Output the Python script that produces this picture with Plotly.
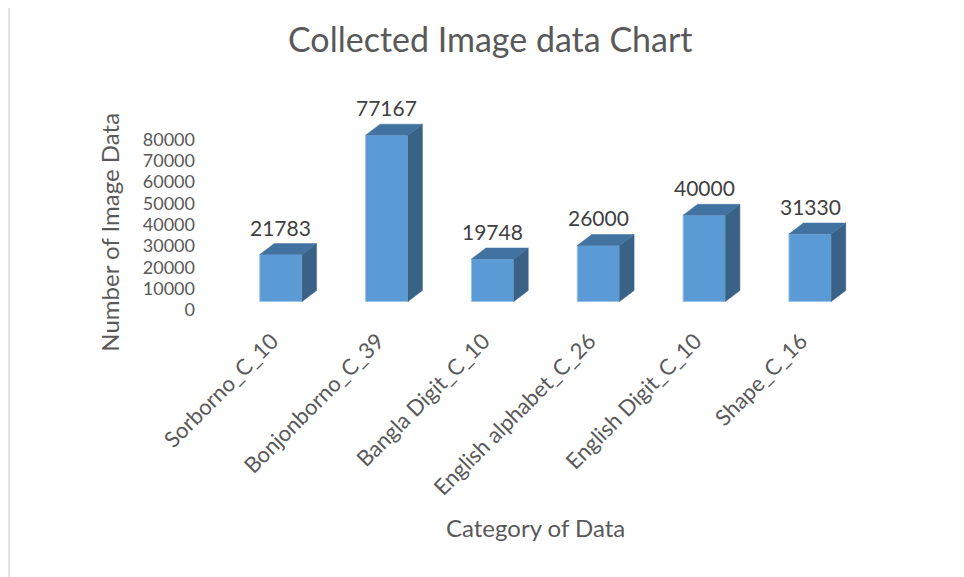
import plotly.graph_objects as go

# ---- data ----
categories = ["Sorborno_C_10", "Bonjonborno_C_39", "Bangla Digit_C_10",
              "English alphabet_C_26", "English Digit_C_10", "Shape_C_16"]
values = [21783, 77167, 19748, 26000, 40000, 31330]
y_ticks = [0, 10000, 20000, 30000, 40000, 50000, 60000, 70000, 80000]
y_tick_labels = [str(t) for t in y_ticks]
title_text = "Collected Image data Chart"
x_title = "Category of Data"
y_title = "Number of Image Data"

# ---- layout geometry (screen pixels of the target; page has an 8px body margin) ----
OFF = 8
W, H = 964 - OFF, 577 - OFF
L = 228 - OFF
T = 60 - OFF
PLOT_BOTTOM = 310.5 - OFF
PW = 635
R = W - L - PW
B = H - PLOT_BOTTOM
PH = PLOT_BOTTOM - T

K_TICK = 0.002138      # px per unit for tick axis
K_BAR = 0.00216        # px per unit for bar axis
BAR_BASE_OFFSET = 8.5  # bar floor sits above tick zero (3D)
DEPTH_DX_PX = 14.5
DEPTH_DY_PX = 11
BAR_W = 0.4

n = len(categories)
cat_px = PW / n
dx = DEPTH_DX_PX / cat_px
dy = DEPTH_DY_PX / K_BAR

y1_range = [0, PH / K_TICK]
y2_range = [-BAR_BASE_OFFSET / K_BAR, (PH - BAR_BASE_OFFSET) / K_BAR]

def px_x(px):
    return (px - OFF - L) / PW

def px_y(py):
    return (PLOT_BOTTOM - (py - OFF)) / PH

FRONT = "#5B9BD5"
TOP = "#4272A0"
SIDE = "#3A6287"
TXT = "#595959"
FONT = "Lato"

xs = list(range(n))

fig = go.Figure()

# invisible anchor trace so the tick axis is drawn
fig.add_trace(go.Scatter(x=[xs[0]], y=[y_ticks[0]], yaxis="y", mode="markers",
                         marker=dict(opacity=0), hoverinfo="skip", showlegend=False))

# front faces
fig.add_trace(go.Bar(x=xs, y=values, width=BAR_W, yaxis="y2",
                     marker=dict(color=FRONT, line=dict(color="#9DC3E6", width=1)),
                     hoverinfo="skip", showlegend=False))

# top faces and side faces (computed from the values)
top_x, top_y, side_x, side_y = [], [], [], []
for i, v in zip(xs, values):
    x0, x1 = i - BAR_W / 2, i + BAR_W / 2
    top_x += [x0, x1, x1 + dx, x0 + dx, x0, None]
    top_y += [v, v, v + dy, v + dy, v, None]
    side_x += [x1, x1 + dx, x1 + dx, x1, x1, None]
    side_y += [0, dy, v + dy, v, 0, None]

fig.add_trace(go.Scatter(x=side_x, y=side_y, yaxis="y2", mode="lines", fill="toself",
                         fillcolor=SIDE, line=dict(color=SIDE, width=0.5),
                         hoverinfo="skip", showlegend=False))
fig.add_trace(go.Scatter(x=top_x, y=top_y, yaxis="y2", mode="lines", fill="toself",
                         fillcolor=TOP, line=dict(color=TOP, width=0.5),
                         hoverinfo="skip", showlegend=False))

# data labels
for i, v in zip(xs, values):
    fig.add_annotation(x=i, y=v + dy, xref="x", yref="y2", text=str(v),
                       showarrow=False, yanchor="bottom", xanchor="center", yshift=2,
                       font=dict(family=FONT, size=21, color="#404040"))

# titles
fig.add_annotation(x=px_x(490), y=px_y(38), xref="paper", yref="paper", text=title_text,
                   showarrow=False, xanchor="center", yanchor="middle",
                   font=dict(family=FONT, size=34, color=TXT))
fig.add_annotation(x=px_x(535), y=px_y(528), xref="paper", yref="paper", text=x_title,
                   showarrow=False, xanchor="center", yanchor="middle",
                   font=dict(family=FONT, size=24, color=TXT))
fig.add_annotation(x=px_x(110), y=px_y(233), xref="paper", yref="paper", text=y_title,
                   showarrow=False, xanchor="center", yanchor="middle", textangle=-90,
                   font=dict(family=FONT, size=24, color=TXT))

# chart border (left and top)
fig.add_shape(type="line", xref="paper", yref="paper",
              x0=px_x(9), x1=px_x(9), y0=px_y(4.5), y1=px_y(600),
              line=dict(color="#D9D9D9", width=1.5))
fig.add_shape(type="line", xref="paper", yref="paper",
              x0=px_x(9), x1=px_x(1000), y0=px_y(4.5), y1=px_y(4.5),
              line=dict(color="#D9D9D9", width=1.5))

fig.update_layout(
    width=W, height=H,
    margin=dict(l=L, r=R, t=T, b=B, autoexpand=False),
    paper_bgcolor="white", plot_bgcolor="white",
    xaxis=dict(range=[-0.5, n - 0.5], tickmode="array", tickvals=xs, ticktext=categories,
               tickangle=-45, showgrid=False, zeroline=False, showline=False,
               ticklabelstandoff=13, ticklabelshift=-9,
               tickfont=dict(family=FONT, size=22, color=TXT)),
    yaxis=dict(range=y1_range, tickmode="array", tickvals=y_ticks, ticktext=y_tick_labels,
               showgrid=False, zeroline=False, showline=False, ticklabelstandoff=32,
               tickfont=dict(family=FONT, size=18, color=TXT)),
    yaxis2=dict(range=y2_range, overlaying="y", visible=False),
)

fig.write_html("out.html")
